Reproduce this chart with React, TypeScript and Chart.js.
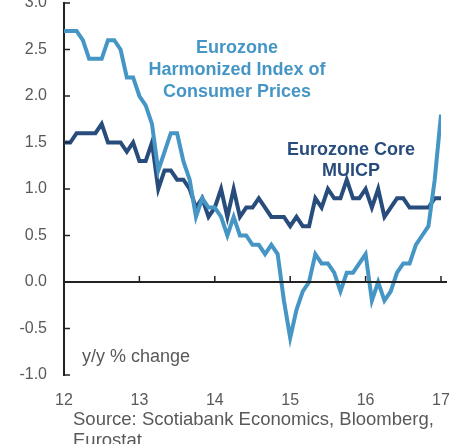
import React, { useEffect, useRef } from "react";
import { Chart, registerables } from "chart.js";

Chart.register(...registerables);

// Monthly observations, Jan 2012 – Jan 2017 (x axis: year, two digits)
const startYear = 12;
const yearTicks = ["12", "13", "14", "15", "16", "17"];

const hicp = [
  2.7, 2.7, 2.7, 2.6, 2.4, 2.4, 2.4, 2.6, 2.6, 2.5, 2.2, 2.2,
  2.0, 1.9, 1.7, 1.2, 1.4, 1.6, 1.6, 1.3, 1.1, 0.7, 0.9, 0.8,
  0.8, 0.7, 0.5, 0.7, 0.5, 0.5, 0.4, 0.4, 0.3, 0.4, 0.3, -0.2,
  -0.6, -0.3, -0.1, 0.0, 0.3, 0.2, 0.2, 0.1, -0.1, 0.1, 0.1, 0.2,
  0.3, -0.2, 0.0, -0.2, -0.1, 0.1, 0.2, 0.2, 0.4, 0.5, 0.6, 1.1,
  1.8,
];

const core = [
  1.5, 1.5, 1.6, 1.6, 1.6, 1.6, 1.7, 1.5, 1.5, 1.5, 1.4, 1.5,
  1.3, 1.3, 1.5, 1.0, 1.2, 1.2, 1.1, 1.1, 1.0, 0.8, 0.9, 0.7,
  0.8, 1.0, 0.7, 1.0, 0.7, 0.8, 0.8, 0.9, 0.8, 0.7, 0.7, 0.7,
  0.6, 0.7, 0.6, 0.6, 0.9, 0.8, 1.0, 0.9, 0.9, 1.1, 0.9, 0.9,
  1.0, 0.8, 1.0, 0.7, 0.8, 0.9, 0.9, 0.8, 0.8, 0.8, 0.8, 0.9,
  0.9,
];

const hicpLabel = ["Eurozone", "Harmonized Index of", "Consumer Prices"];
const coreLabel = ["Eurozone Core", "MUICP"];
const unitLabel = "y/y % change";
const sourceLines = ["Source: Scotiabank Economics, Bloomberg,", "Eurostat."];

const LIGHT = "#4596c5";
const DARK = "#284c7c";
const TEXT = "#595959";
const AXIS = "#222222";
const FONT = "'Liberation Sans', Arial, sans-serif";

const toPoints = (vals: number[]) =>
  vals.map((v, i) => ({ x: startYear + i / 12, y: v }));

export default function App() {
  const ref = useRef<HTMLCanvasElement | null>(null);

  useEffect(() => {
    document.body.style.margin = "0";
    if (!ref.current) return;

    const axisPlugin = {
      id: "axisDecor",
      afterDatasetsDraw(chart: any) {
        const { ctx, chartArea, scales } = chart;
        const x = scales.x;
        const y = scales.y;
        ctx.save();
        ctx.strokeStyle = AXIS;
        ctx.lineWidth = 2;
        const y0 = y.getPixelForValue(0);
        ctx.beginPath();
        ctx.moveTo(chartArea.left, y0);
        ctx.lineTo(chartArea.right + 6, y0);
        ctx.stroke();
        ctx.lineWidth = 1.5;
        x.ticks.forEach((t: any) => {
          if (t.value === x.min) return;
          const px = x.getPixelForValue(t.value);
          ctx.beginPath();
          ctx.moveTo(px, y0);
          ctx.lineTo(px, y0 - 6);
          ctx.stroke();
        });
        y.ticks.forEach((t: any) => {
          const py = y.getPixelForValue(t.value);
          ctx.beginPath();
          ctx.moveTo(chartArea.left, py);
          ctx.lineTo(chartArea.left + 6, py);
          ctx.stroke();
        });
        ctx.restore();
      },
      afterDraw(chart: any) {
        const { ctx } = chart;
        ctx.save();
        ctx.textAlign = "center";
        ctx.textBaseline = "alphabetic";
        ctx.font = `bold 18px ${FONT}`;
        ctx.fillStyle = LIGHT;
        hicpLabel.forEach((s, i) => ctx.fillText(s, 237, 53 + i * 22));
        ctx.fillStyle = DARK;
        coreLabel.forEach((s, i) => ctx.fillText(s, 351, 155 + i * 21));
        ctx.fillStyle = TEXT;
        ctx.textAlign = "left";
        ctx.font = `18px ${FONT}`;
        ctx.fillText(unitLabel, 82, 362);
        ctx.font = `18.5px ${FONT}`;
        sourceLines.forEach((s, i) => ctx.fillText(s, 73, 425 + i * 21));
        ctx.restore();
      },
    };

    const chart = new Chart(ref.current, {
      type: "line",
      data: {
        datasets: [
          {
            label: "HICP",
            data: toPoints(hicp),
            borderColor: LIGHT,
            borderWidth: 4,
            pointRadius: 0,
            tension: 0,
            fill: false,
          },
          {
            label: "Core",
            data: toPoints(core),
            borderColor: DARK,
            borderWidth: 4,
            pointRadius: 0,
            tension: 0,
            fill: false,
          },
        ],
      },
      options: {
        animation: false,
        responsive: false,
        maintainAspectRatio: false,
        layout: { padding: { top: 3, right: 9, left: 0, bottom: 0 } },
        plugins: {
          legend: { display: false },
          tooltip: { enabled: false },
          title: { display: false },
        },
        scales: {
          x: {
            type: "linear",
            min: 12,
            max: 17,
            grid: { display: false, drawTicks: false },
            border: { display: false },
            ticks: {
              stepSize: 1,
              padding: 16,
              color: TEXT,
              font: { family: FONT, size: 16 },
              maxRotation: 0,
              callback: (v: any) => yearTicks[Math.round(Number(v)) - startYear] ?? "",
            },
            afterFit: (s: any) => {
              s.height = 69;
              s.paddingLeft = 0;
              s.paddingRight = 0;
            },
          },
          y: {
            min: -1,
            max: 3,
            grid: { display: false, drawTicks: false },
            border: { display: true, color: AXIS, width: 2 },
            ticks: {
              stepSize: 0.5,
              padding: 17,
              color: TEXT,
              font: { family: FONT, size: 16 },
              callback: (v: any) => Number(v).toFixed(1),
            },
            afterFit: (s: any) => {
              s.width = 64;
              s.paddingTop = 0;
              s.paddingBottom = 0;
            },
          },
        },
      },
      plugins: [axisPlugin],
    });

    return () => chart.destroy();
  }, []);

  return (
    <div style={{ position: "relative", width: 450, height: 444, background: "#fff" }}>
      <canvas ref={ref} width={450} height={444} style={{ display: "block" }} />
    </div>
  );
}
